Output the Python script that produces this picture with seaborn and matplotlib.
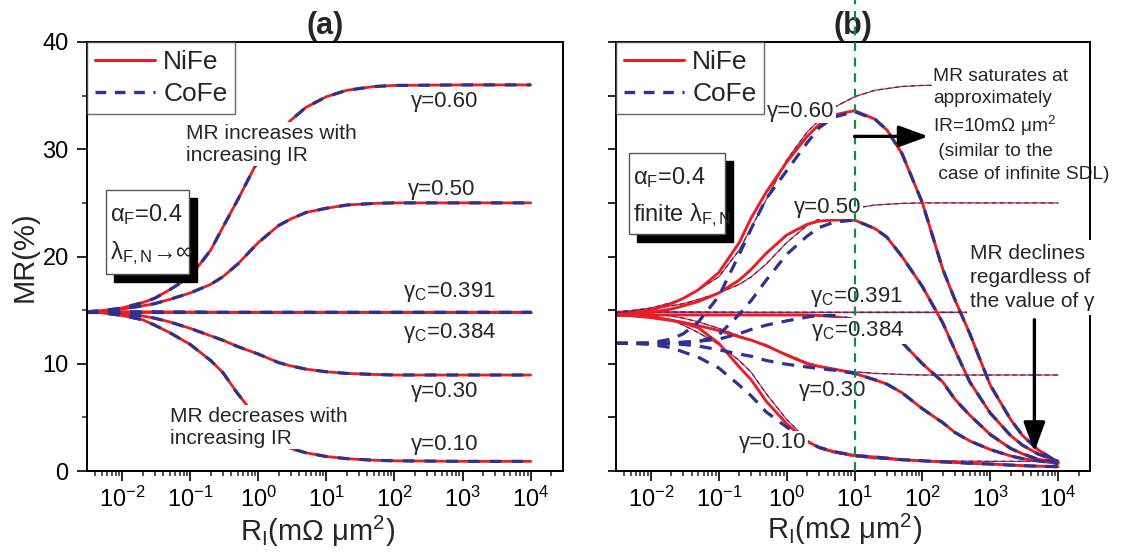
import matplotlib
matplotlib.use("Agg")
import matplotlib.pyplot as plt
import seaborn as sns
from matplotlib.lines import Line2D
from matplotlib.patches import Rectangle
from matplotlib.ticker import (FixedLocator, LogFormatterSciNotation, MultipleLocator,
                               NullFormatter)

RED = "#EC1C24"
NAVY = "#2E3192"
GREEN = "#148A4A"

# ---------------- panel (a): infinite spin-diffusion length ----------------
x_inf = [0.003, 0.005, 0.01, 0.02, 0.03, 0.05, 0.1, 0.2, 0.3, 0.5, 1, 2, 3, 5,
         10, 20, 50, 100, 1000, 10000]
mr_inf_060 = [14.85, 14.95, 15.2, 15.7, 16.1, 16.9, 18.1, 20.6, 22.7, 25.3, 29.0,
              31.6, 32.7, 33.9, 34.9, 35.5, 35.85, 35.95, 36.0, 36.0]
mr_inf_050 = [14.85, 14.9, 15.1, 15.4, 15.6, 16.0, 16.6, 17.4, 18.1, 19.3, 21.3,
              22.9, 23.5, 24.1, 24.5, 24.8, 24.95, 25.0, 25.0, 25.0]
mr_inf_0391 = [14.85, 14.85, 14.85, 14.85, 14.85, 14.85, 14.85, 14.85, 14.85, 14.85,
               14.85, 14.85, 14.85, 14.85, 14.85, 14.85, 14.85, 14.85, 14.85, 14.85]
mr_inf_0384 = [14.85, 14.85, 14.85, 14.84, 14.84, 14.83, 14.82, 14.81, 14.8, 14.8,
               14.8, 14.8, 14.8, 14.8, 14.8, 14.8, 14.8, 14.8, 14.8, 14.8]
mr_inf_030 = [14.85, 14.8, 14.65, 14.45, 14.25, 13.9, 13.3, 12.6, 12.2, 11.6, 10.9,
              10.1, 9.8, 9.5, 9.25, 9.1, 9.0, 8.95, 8.95, 8.95]
mr_inf_010 = [14.85, 14.75, 14.5, 14.1, 13.6, 12.9, 11.8, 10.3, 9.2, 7.2, 4.8,
              2.9, 2.1, 1.7, 1.35, 1.15, 1.0, 0.95, 0.9, 0.9]

# ---------------- panel (b): finite spin-diffusion length ----------------
x_fin = [0.003, 0.005, 0.01, 0.02, 0.03, 0.05, 0.1, 0.2, 0.3, 0.5, 1, 2, 3, 5,
         10, 20, 30, 50, 100, 200, 300, 500, 1000, 2000, 3000, 5000, 10000]
nife_060 = [14.55, 14.7, 15.0, 15.6, 16.1, 16.9, 18.5, 21.3, 23.6, 26.0, 28.8, 31.2,
            32.3, 33.2, 33.6, 32.8, 31.8, 29.6, 25.0, 18.8, 16.0, 12.8, 8.0, 4.8,
            3.3, 2.0, 0.8]
nife_050 = [14.55, 14.6, 14.8, 15.1, 15.4, 15.8, 16.6, 17.8, 18.8, 20.3, 22.0, 23.0,
            23.3, 23.4, 23.4, 22.6, 21.8, 20.0, 17.2, 13.8, 11.3, 8.3, 5.4, 3.3,
            2.4, 1.6, 0.9]
nife_0391 = [14.55, 14.55, 14.55, 14.55, 14.55, 14.55, 14.55, 14.55, 14.55, 14.55,
             14.55, 14.55, 14.5, 14.4, 14.1, 13.4, 12.9, 12.0, 10.0, 8.3, 6.7, 5.2,
             3.4, 2.1, 1.6, 1.1, 0.8]
nife_030 = [14.55, 14.5, 14.3, 14.05, 13.85, 13.55, 13.1, 12.5, 12.2, 11.7, 10.8,
            10.0, 9.75, 9.5, 9.1, 8.5, 8.1, 7.3, 5.8, 4.5, 3.6, 2.8, 2.0, 1.4,
            1.15, 0.95, 0.7]
nife_010 = [14.55, 14.5, 14.35, 14.05, 13.8, 13.35, 11.9, 9.7, 8.5, 6.5, 4.4, 2.75,
            2.2, 1.8, 1.45, 1.3, 1.2, 1.05, 0.95, 0.85, 0.8, 0.72, 0.65, 0.55,
            0.5, 0.45, 0.4]
cofe_060 = [11.9, 11.9, 11.95, 12.3, 12.8, 13.9, 16.3, 20.2, 22.6, 25.4, 28.0, 30.6,
            32.0, 33.0, 33.5, 32.8, 31.8, 29.6, 25.0, 18.8, 16.0, 12.8, 8.0, 4.8,
            3.3, 2.0, 0.8]
cofe_050 = [11.9, 11.9, 11.9, 11.95, 12.0, 12.05, 12.7, 14.6, 15.9, 17.8, 20.2, 21.9,
            22.7, 23.2, 23.4, 22.6, 21.8, 20.0, 17.2, 13.8, 11.3, 8.3, 5.4, 3.3,
            2.4, 1.6, 0.9]
cofe_0391 = [11.9, 11.9, 11.9, 11.95, 12.0, 12.1, 12.3, 12.8, 13.2, 13.6, 14.0, 14.35,
             14.5, 14.5, 14.1, 13.4, 12.9, 12.0, 10.0, 8.3, 6.7, 5.2, 3.4, 2.1,
             1.6, 1.1, 0.8]
cofe_030 = [11.9, 11.9, 11.9, 11.85, 11.8, 11.65, 11.3, 10.9, 10.7, 10.3, 9.95, 9.7,
            9.55, 9.4, 9.1, 8.5, 8.1, 7.3, 5.8, 4.5, 3.6, 2.8, 2.0, 1.4, 1.15,
            0.95, 0.7]
cofe_010 = [11.9, 11.9, 11.8, 11.5, 11.1, 10.6, 9.6, 8.0, 7.0, 5.5, 4.1, 2.75, 2.2,
            1.8, 1.45, 1.3, 1.2, 1.05, 0.95, 0.85, 0.8, 0.72, 0.65, 0.55, 0.5,
            0.45, 0.4]

inf_curves = [mr_inf_060, mr_inf_050, mr_inf_0391, mr_inf_0384, mr_inf_030, mr_inf_010]
nife_curves = [nife_060, nife_050, nife_0391, nife_030, nife_010]
cofe_curves = [cofe_060, cofe_050, cofe_0391, cofe_030, cofe_010]

x_major = [1e-2, 1e-1, 1e0, 1e1, 1e2, 1e3, 1e4]
x_minor = [m * 10.0 ** e for e in range(-3, 5) for m in range(2, 10)]

sns.set_theme(style="ticks")
plt.rcParams["font.family"] = ["Liberation Sans", "DejaVu Sans"]
plt.rcParams["mathtext.fontset"] = "custom"
plt.rcParams["mathtext.rm"] = "Liberation Sans"
plt.rcParams["mathtext.it"] = "Liberation Sans:italic"
plt.rcParams["mathtext.bf"] = "Liberation Sans:bold"

W, H = 1123, 556
fig = plt.figure(figsize=(W / 100, H / 100), dpi=100)


def px_box(left, top, right, bottom):
    return [left / W, 1 - bottom / H, (right - left) / W, (bottom - top) / H]


ax_a = fig.add_axes(px_box(86.7, 42, 562.7, 471))
ax_b = fig.add_axes(px_box(615.7, 42, 1090, 471))


def curve(ax, x, y, color, lw, dash=None, z=2.0):
    ls = "-" if dash is None else (0, dash)
    sns.lineplot(x=x, y=y, ax=ax, color=color, linewidth=lw, linestyle=ls,
                 estimator=None, sort=False, legend=False, zorder=z)


for ax in (ax_a, ax_b):
    ax.set_xscale("log")
    ax.set_xlim(10 ** -2.52, 10 ** 4.47)
    ax.set_ylim(0, 40)

# panel (a) curves: NiFe solid red, CoFe dashed navy on top
for y in inf_curves:
    curve(ax_a, x_inf, y, RED, 2.0, z=2.0)
for y in inf_curves:
    curve(ax_a, x_inf, y, NAVY, 2.3, dash=(3.6, 3.2), z=2.1)

# panel (b): thin infinite-SDL references, then thick finite-SDL curves
for y in inf_curves:
    curve(ax_b, x_inf, y, RED, 0.9, z=1.8)
    curve(ax_b, x_inf, y, NAVY, 0.9, dash=(3.5, 3.0), z=1.85)
for y in nife_curves:
    curve(ax_b, x_fin, y, RED, 2.1, z=2.0)
for y in cofe_curves:
    curve(ax_b, x_fin, y, NAVY, 2.3, dash=(3.8, 2.8), z=2.1)

# axes styling
for ax in (ax_a, ax_b):
    for s in ax.spines.values():
        s.set_linewidth(1.4)
        s.set_color("black")
    ax.xaxis.set_major_locator(FixedLocator(x_major))
    ax.xaxis.set_minor_locator(FixedLocator(x_minor))
    ax.xaxis.set_major_formatter(LogFormatterSciNotation())
    ax.xaxis.set_minor_formatter(NullFormatter())
    ax.tick_params(axis="both", which="major", direction="out", length=7, width=1.2,
                   labelsize=17, colors="black", pad=4, top=False, right=False)
    ax.tick_params(axis="both", which="minor", direction="out", length=3.8, width=1.1,
                   top=False, right=False)
    ax.set_xlabel("")
    ax.set_ylabel("")
    ax.grid(False)

ax_a.yaxis.set_major_locator(MultipleLocator(10))
ax_a.yaxis.set_minor_locator(MultipleLocator(5))
ax_a.tick_params(axis="y", which="major", pad=6)
ax_b.yaxis.set_major_locator(MultipleLocator(5))
ax_b.yaxis.set_minor_locator(MultipleLocator(5))
ax_b.tick_params(axis="y", which="major", length=6, labelleft=False)
ax_b.tick_params(axis="y", which="minor", length=0)

# titles and axis labels
ax_a.set_title("(a)", fontsize=22, fontweight="bold", pad=6)
ax_b.set_title("(b)", fontsize=22, fontweight="bold", pad=6)
fig.text(25 / W, 1 - 257 / H, "MR(%)", rotation=90, ha="center", va="center", fontsize=21)
xlab = "R$_\\mathregular{I}$(mΩ μm$^\\mathregular{2}$)"
fig.text(318 / W, 1 - 531 / H, xlab, ha="center", va="center", fontsize=21)
fig.text(845 / W, 1 - 529 / H, xlab, ha="center", va="center", fontsize=21)

# legends
handles = [Line2D([], [], color=RED, lw=2.2),
           Line2D([], [], color=NAVY, lw=2.4, linestyle=(0, (3.2, 2.6)))]
for ax in (ax_a, ax_b):
    leg = ax.legend(handles, ["NiFe", "CoFe"], loc="upper left", bbox_to_anchor=(0, 1),
                    borderaxespad=0, frameon=True, fancybox=False, edgecolor="#444444",
                    fontsize=19, handlelength=2.3, handletextpad=0.3, borderpad=0.3,
                    labelspacing=0.3)
    leg.get_frame().set_linewidth(1.0)
    leg.set_zorder(6)

white = dict(facecolor="white", edgecolor="none", pad=1.0)

# curve labels, panel (a)
lab_a = [(550, 33.95, "γ=0.60"), (500, 25.75, "γ=0.50"),
         (630, 16.23, "γ$_\\mathregular{C}$=0.391"), (640, 12.4, "γ$_\\mathregular{C}$=0.384"),
         (550, 6.9, "γ=0.30"), (550, 1.96, "γ=0.10")]
for x, y, s in lab_a:
    ax_a.text(x, y, s, ha="center", va="baseline", fontsize=16, zorder=3, bbox=white)

ax_a.text(0.0857, 32.4, "MR increases with\nincreasing IR", ha="left", va="top",
          fontsize=15, linespacing=1.2, zorder=3, bbox=white)
ax_a.text(0.050, 6.0, "MR decreases with\nincreasing IR", ha="left", va="top",
          fontsize=15, linespacing=1.2, zorder=3, bbox=white)

# curve labels, panel (b)
lab_b = [(1.63, 33.0, "γ=0.60"), (4.03, 24.07, "γ=0.50"),
         (10.6, 15.76, "γ$_\\mathregular{C}$=0.391"), (11.2, 12.6, "γ$_\\mathregular{C}$=0.384"),
         (4.7, 7.0, "γ=0.30"), (0.63, 2.15, "γ=0.10")]
for x, y, s in lab_b:
    ax_b.text(x, y, s, ha="center", va="baseline", fontsize=16, zorder=3, bbox=white)

ax_b.text(145, 37.6, "MR saturates at\napproximately\nIR=10mΩ μm$^\\mathregular{2}$\n"
          " (similar to the\n case of infinite SDL)", ha="left", va="top", fontsize=13.8,
          linespacing=1.4, zorder=2.3, bbox=white)
ax_b.text(507, 21.2, "MR declines\nregardless of\nthe value of γ", ha="left", va="top",
          fontsize=15, linespacing=1.35, zorder=3,
          bbox=dict(facecolor="white", edgecolor="none", pad=2.5))

# vertical guide at 10 mΩ μm²
ax_b.axvline(10, 0, 1.1, color=GREEN, lw=1.6, linestyle=(0, (4, 3)), clip_on=False, zorder=6)

# arrows
arrow = dict(arrowstyle="-|>,head_length=0.6,head_width=0.22", lw=2.4, color="black",
             mutation_scale=30, shrinkA=0, shrinkB=0)
ax_b.annotate("", xy=(122, 31.2), xytext=(10, 31.2), arrowprops=arrow, zorder=7)
ax_b.annotate("", xy=(4470, 1.8), xytext=(4470, 14.1), arrowprops=arrow, zorder=7)


# parameter boxes with drop shadow
def shadow_box(ax, x0, y0, x1, y1, dx, dy):
    ax.add_patch(Rectangle((x0 + dx, y0 - dy), x1 - x0, y1 - y0, transform=ax.transAxes,
                           facecolor="black", edgecolor="black", zorder=4))
    ax.add_patch(Rectangle((x0, y0), x1 - x0, y1 - y0, transform=ax.transAxes,
                           facecolor="white", edgecolor="#555555", lw=1.0, zorder=4.1))


shadow_box(ax_a, 0.0405, 0.459, 0.2149, 0.655, 0.0168, 0.0186)
ax_a.text(0.049, 0.597, "α$_\\mathregular{F}$=0.4", transform=ax_a.transAxes, ha="left",
          va="center", fontsize=17, zorder=5)
ax_a.text(0.049, 0.508, "λ$_\\mathregular{F,N}$→∞", transform=ax_a.transAxes, ha="left",
          va="center", fontsize=17, zorder=5)

shadow_box(ax_b, 0.028, 0.5524, 0.2304, 0.741, 0.0169, 0.0186)
ax_b.text(0.036, 0.683, "α$_\\mathregular{F}$=0.4", transform=ax_b.transAxes, ha="left",
          va="center", fontsize=17, zorder=5)
ax_b.text(0.036, 0.597, "finite λ$_\\mathregular{F,N}$", transform=ax_b.transAxes,
          ha="left", va="center", fontsize=17, zorder=5)

fig.savefig("out.png", dpi=100)
